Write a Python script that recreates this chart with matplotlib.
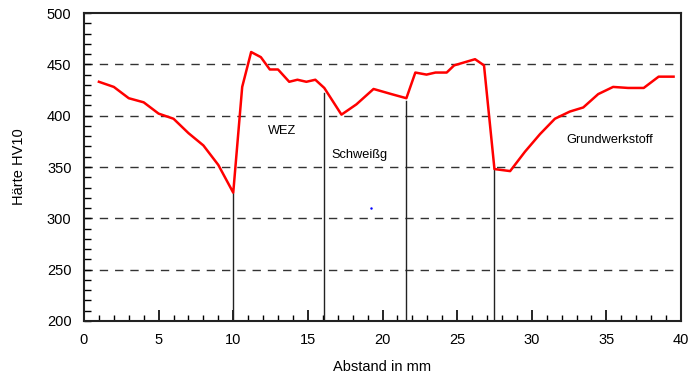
import matplotlib.pyplot as plt
from matplotlib.ticker import MultipleLocator

plt.rcParams['font.family'] = ['Liberation Sans', 'DejaVu Sans']

# Hardness profile
abstand = [1.0, 2.0, 3.0, 4.0, 5.0, 6.0, 7.0, 8.0, 9.0, 10.0, 10.6, 11.2, 11.85,
           12.45, 13.0, 13.75, 14.3, 14.9, 15.5, 16.1, 17.25, 18.25, 19.4, 20.6,
           21.6, 22.2, 22.95, 23.55, 24.3, 24.8, 26.2, 26.8, 27.5, 28.55, 29.55,
           30.55, 31.55, 32.55, 33.45, 34.45, 35.45, 36.45, 37.5, 38.5, 39.5]
haerte = [433, 428, 417, 413, 402, 397, 383, 371, 352, 325, 428, 462, 457,
          445, 445, 433, 435, 433, 435, 427, 401, 411, 426, 421,
          417, 442, 440, 442, 442, 449, 455, 449, 348, 346, 365,
          382, 397, 404, 408, 421, 428, 427, 427, 438, 438]

# zone borders (x position, top of line)
grenzen_x = [10.0, 16.05, 21.6, 27.5]
grenzen_top = [325, 422, 414, 348]

zonen = ['WEZ', 'Schweißg', 'Grundwerkstoff']
zonen_x = [12.3, 16.55, 32.3]
zonen_y = [385, 362, 376]

fig = plt.figure(figsize=(6.9, 3.78), dpi=100)
ax = fig.add_axes([0.1217, 0.1508, 0.8653, 0.8148])

for y in [250, 300, 350, 400, 450]:
    ax.plot([0, 39.8], [y, y], color='#333333', lw=1.0, dashes=(6, 5), zorder=1)

for gx, gt in zip(grenzen_x, grenzen_top):
    ax.plot([gx, gx], [198, gt], color='#222222', lw=1.0, zorder=2)

ax.plot(abstand, haerte, color='#ff0000', lw=1.8, zorder=3)
ax.plot([19.2], [310], marker='.', ms=1.5, color='blue')

for name, zx, zy in zip(zonen, zonen_x, zonen_y):
    ax.text(zx, zy, name, fontsize=9.2, ha='left', va='center')

ax.set_xlim(0, 40)
ax.set_ylim(200, 500)
ax.xaxis.set_major_locator(MultipleLocator(5))
ax.xaxis.set_minor_locator(MultipleLocator(1))
ax.yaxis.set_major_locator(MultipleLocator(50))
ax.yaxis.set_minor_locator(MultipleLocator(10))
ax.tick_params(axis='x', which='major', direction='in', length=8, width=1.2, labelsize=10.5, pad=9)
ax.tick_params(axis='x', which='minor', direction='in', length=4, width=1.0)
ax.tick_params(axis='y', which='major', direction='in', length=5, width=1.0, labelsize=10.5, pad=9)
ax.tick_params(axis='y', which='minor', direction='in', length=5, width=1.0)
for s in ax.spines.values():
    s.set_linewidth(1.5)
    s.set_color('#222222')

ax.set_xlabel('Abstand in mm', fontsize=10.5)
ax.set_ylabel('Härte HV10', fontsize=10.5)
ax.xaxis.set_label_coords(0.5, -0.128)
ax.yaxis.set_label_coords(-0.097, 0.5)

fig.savefig('out.png', dpi=100)
